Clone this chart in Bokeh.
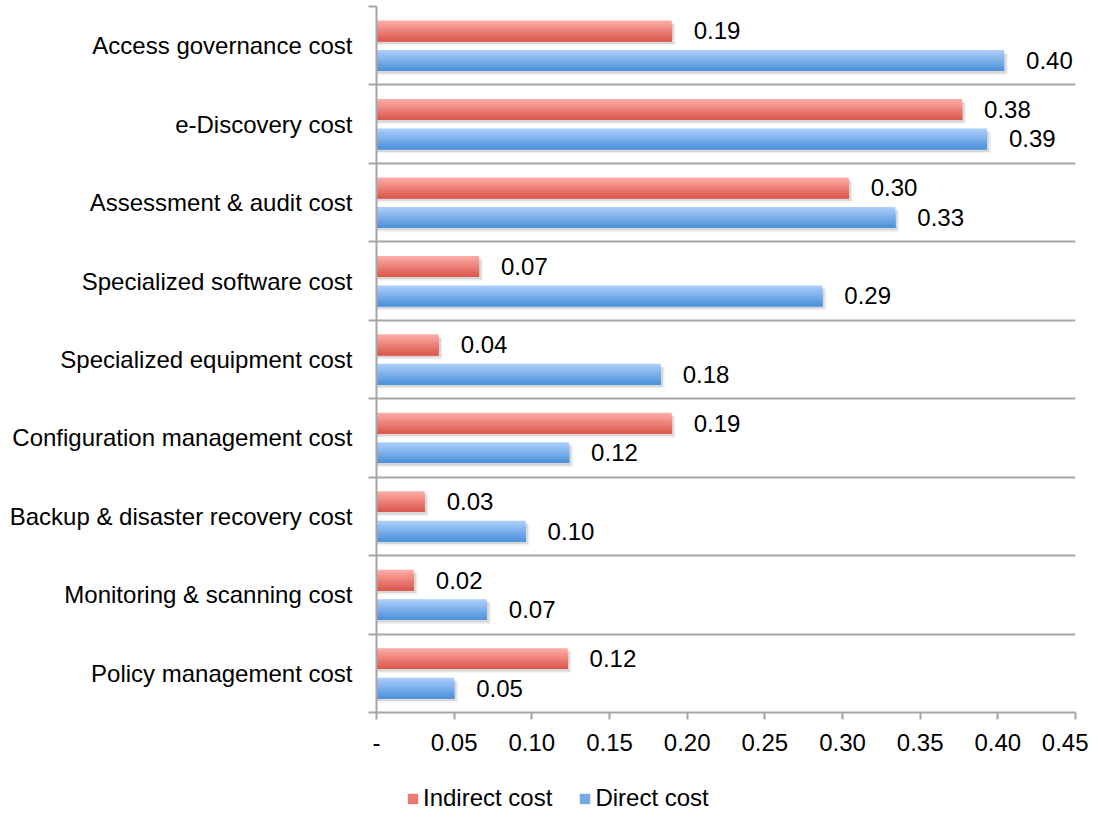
from bokeh.plotting import figure
from bokeh.layouts import column
from bokeh.models import (ColumnDataSource, Range1d, LinearAxis, FixedTicker, Grid,
                          Legend, LegendItem, PrintfTickFormatter)
from bokeh.core.properties import value
from bokeh.embed import file_html
from bokeh.resources import INLINE

# ---------------- data ----------------
categories = ["Access governance cost", "e-Discovery cost", "Assessment & audit cost",
              "Specialized software cost", "Specialized equipment cost",
              "Configuration management cost", "Backup & disaster recovery cost",
              "Monitoring & scanning cost", "Policy management cost"]
indirect_cost = [0.190, 0.377, 0.304, 0.066, 0.040, 0.190, 0.031, 0.024, 0.123]
direct_cost = [0.404, 0.393, 0.334, 0.287, 0.183, 0.124, 0.096, 0.071, 0.050]
x_ticks = [0.0, 0.05, 0.10, 0.15, 0.20, 0.25, 0.30, 0.35, 0.40, 0.45]
series_names = ["Indirect cost", "Direct cost"]

# ---------------- style ----------------
FONT = "Liberation Sans"
FS = "24px"
GRAY = "#a5a5a5"
RED_TOP, RED_BOT = (252, 170, 164), (220, 89, 79)
BLUE_TOP, BLUE_BOT = (170, 205, 250), (78, 147, 219)
BAR_H = 0.265
OFF = 0.188
K = 12

n = len(categories)
centers = [n - i - 0.5 for i in range(n)]

p = figure(width=1088, height=762, x_range=Range1d(0, 0.45), y_range=Range1d(0, 9),
           output_backend="svg", toolbar_location=None, y_axis_location=None,
           min_border_left=376, min_border_right=13, min_border_top=6, min_border_bottom=50)
p.outline_line_color = None
p.xgrid.visible = False
p.ygrid.visible = False
p.background_fill_color = "white"

# x axis
xa = p.xaxis[0]
xa.ticker = FixedTicker(ticks=x_ticks)
xa.formatter = PrintfTickFormatter(format="%.2f")
xa.major_label_overrides = {0: "-"}
xa.axis_line_color = GRAY
xa.axis_line_width = 2
xa.major_tick_line_color = GRAY
xa.major_tick_line_width = 2
xa.major_tick_out = 7
xa.major_tick_in = 0
xa.minor_tick_line_color = None
xa.major_label_text_font = FONT
xa.major_label_text_font_size = FS
xa.major_label_text_color = "black"
xa.major_label_standoff = 14

# inner left axis: boundary ticks
bounds = list(range(n + 1))
ya1 = LinearAxis(ticker=FixedTicker(ticks=bounds),
                 major_label_overrides={b: "" for b in bounds})
ya1.axis_line_color = GRAY
ya1.axis_line_width = 2
ya1.major_tick_line_color = GRAY
ya1.major_tick_line_width = 2
ya1.major_tick_out = 8
ya1.major_tick_in = 0
ya1.minor_tick_line_color = None
ya1.major_label_text_font_size = "1px"
ya1.major_label_standoff = 0
p.add_layout(ya1, "left")

# outer left axis: category labels
ya2 = LinearAxis(ticker=FixedTicker(ticks=centers),
                 major_label_overrides={c: name for c, name in zip(centers, categories)})
ya2.axis_line_color = None
ya2.major_tick_line_color = None
ya2.minor_tick_line_color = None
ya2.major_label_text_font = FONT
ya2.major_label_text_font_size = FS
ya2.major_label_text_color = "black"
ya2.major_label_standoff = 10
p.add_layout(ya2, "left")

# horizontal grid at category boundaries
p.add_layout(Grid(dimension=1, ticker=FixedTicker(ticks=bounds[1:]),
                  grid_line_color=GRAY, grid_line_width=2))


def mix(a, b, t):
    return "#%02x%02x%02x" % tuple(int(round(a[j] + (b[j] - a[j]) * t)) for j in range(3))


# legend strip (separate figure so the legend can sit freely below the axis)
lg = figure(width=1088, height=51, x_range=Range1d(0, 1), y_range=Range1d(0, 1),
            output_backend="svg", toolbar_location=None, x_axis_location=None,
            y_axis_location=None, min_border=0)
lg.outline_line_color = None
lg.xgrid.visible = False
lg.ygrid.visible = False

legend_items = []
for vals, off, ctop, cbot, name in [(indirect_cost, OFF, RED_TOP, RED_BOT, series_names[0]),
                                     (direct_cost, -OFF, BLUE_TOP, BLUE_BOT, series_names[1])]:
    ys = [c + off for c in centers]
    # soft shadow
    for dy, dx, a in [(0.05, 0.0025, 0.06), (0.033, 0.0015, 0.10)]:
        p.quad(left=[0] * n, right=[v + dx for v in vals],
               top=[y + BAR_H / 2 - dy for y in ys], bottom=[y - BAR_H / 2 - dy for y in ys],
               fill_color="black", fill_alpha=a, line_color=None)
    for k in range(K):
        t = k / (K - 1)
        src = ColumnDataSource(dict(left=[0] * n, right=vals,
                                    top=[y + BAR_H / 2 - k * BAR_H / K for y in ys],
                                    bottom=[y - BAR_H / 2 for y in ys]))
        p.quad(left="left", right="right", top="top", bottom="bottom", source=src,
               fill_color=mix(ctop, cbot, t), line_color=None)
    p.text(x=vals, y=ys, text=[f"{v:.2f}" for v in vals], x_offset=22,
           text_font=value(FONT), text_font_size=FS, text_baseline="middle",
           text_align="left", text_color="black")
    # legend swatch holder: one off-range quad (outside the strip's x range, never visible)
    sw = lg.quad(left=[2], right=[3], top=[1], bottom=[0],
                 fill_color=mix(ctop, cbot, 0.6), line_color=None)
    legend_items.append(LegendItem(label=name, renderers=[sw]))

legend = Legend(items=legend_items, location=(30, 1), orientation="horizontal",
                glyph_width=13, glyph_height=13, label_standoff=4, spacing=26,
                label_text_font=FONT, label_text_font_size=FS, label_text_color="black",
                border_line_color=None, background_fill_alpha=0, padding=0, margin=0)
lg.add_layout(legend)

open("out.html", "w").write(file_html(column(p, lg, spacing=0), INLINE))
